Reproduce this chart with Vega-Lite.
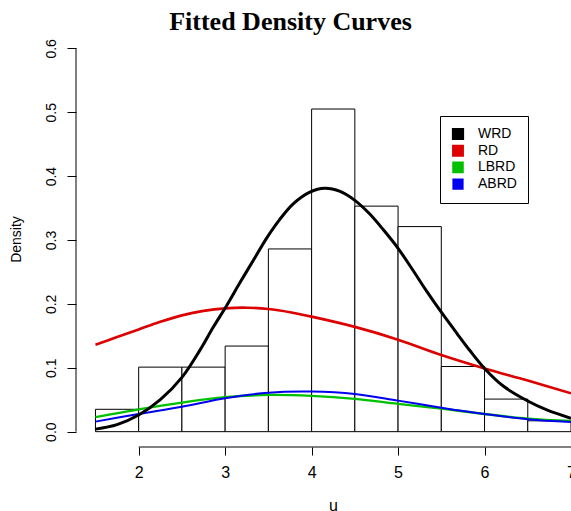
{
  "$schema": "https://vega.github.io/schema/vega-lite/v6.json",
  "width": 495,
  "height": 414,
  "autosize": {"type": "none"},
  "padding": {"top": 33, "left": 76, "right": 0, "bottom": 64},
  "background": "white",
  "config": {"view": {"stroke": null}},
  "title": {
    "text": "Fitted Density Curves",
    "font": "Liberation Serif",
    "fontSize": 26,
    "fontWeight": "bold",
    "color": "black",
    "anchor": "middle",
    "dx": -33,
    "offset": -2
  },
  "datasets": {
    "bars": [
      {"lo": 1.5, "hi": 2.0, "density": 0.035},
      {"lo": 2.0, "hi": 2.5, "density": 0.101},
      {"lo": 2.5, "hi": 3.0, "density": 0.101},
      {"lo": 3.0, "hi": 3.5, "density": 0.134},
      {"lo": 3.5, "hi": 4.0, "density": 0.286},
      {"lo": 4.0, "hi": 4.5, "density": 0.505},
      {"lo": 4.5, "hi": 5.0, "density": 0.353},
      {"lo": 5.0, "hi": 5.5, "density": 0.321},
      {"lo": 5.5, "hi": 6.0, "density": 0.102},
      {"lo": 6.0, "hi": 6.5, "density": 0.051},
      {"lo": 6.5, "hi": 7.0, "density": 0.017}
    ],
    "curves": [
      {"series": "RD", "u": 1.5, "d": 0.136},
      {"series": "RD", "u": 1.75, "d": 0.148},
      {"series": "RD", "u": 2.0, "d": 0.160},
      {"series": "RD", "u": 2.25, "d": 0.172},
      {"series": "RD", "u": 2.5, "d": 0.182},
      {"series": "RD", "u": 2.75, "d": 0.189},
      {"series": "RD", "u": 3.0, "d": 0.193},
      {"series": "RD", "u": 3.25, "d": 0.194},
      {"series": "RD", "u": 3.5, "d": 0.192},
      {"series": "RD", "u": 3.75, "d": 0.187},
      {"series": "RD", "u": 4.0, "d": 0.180},
      {"series": "RD", "u": 4.5, "d": 0.164},
      {"series": "RD", "u": 5.0, "d": 0.144},
      {"series": "RD", "u": 5.5, "d": 0.120},
      {"series": "RD", "u": 6.0, "d": 0.099},
      {"series": "RD", "u": 6.5, "d": 0.080},
      {"series": "RD", "u": 7.0, "d": 0.060},
      {"series": "LBRD", "u": 1.5, "d": 0.0226},
      {"series": "LBRD", "u": 2.0, "d": 0.035},
      {"series": "LBRD", "u": 2.5, "d": 0.0455},
      {"series": "LBRD", "u": 3.0, "d": 0.054},
      {"series": "LBRD", "u": 3.5, "d": 0.0575},
      {"series": "LBRD", "u": 4.0, "d": 0.056},
      {"series": "LBRD", "u": 4.5, "d": 0.0513},
      {"series": "LBRD", "u": 5.0, "d": 0.0434},
      {"series": "LBRD", "u": 5.5, "d": 0.036},
      {"series": "LBRD", "u": 6.0, "d": 0.0277},
      {"series": "LBRD", "u": 6.5, "d": 0.0204},
      {"series": "LBRD", "u": 7.0, "d": 0.0168},
      {"series": "ABRD", "u": 1.5, "d": 0.0157},
      {"series": "ABRD", "u": 2.0, "d": 0.0277},
      {"series": "ABRD", "u": 2.5, "d": 0.039},
      {"series": "ABRD", "u": 3.0, "d": 0.0523},
      {"series": "ABRD", "u": 3.5, "d": 0.061},
      {"series": "ABRD", "u": 4.0, "d": 0.0627},
      {"series": "ABRD", "u": 4.5, "d": 0.059},
      {"series": "ABRD", "u": 5.0, "d": 0.0486},
      {"series": "ABRD", "u": 5.5, "d": 0.0376},
      {"series": "ABRD", "u": 6.0, "d": 0.0277},
      {"series": "ABRD", "u": 6.5, "d": 0.0194},
      {"series": "ABRD", "u": 7.0, "d": 0.015},
      {"series": "WRD", "u": 1.5, "d": 0.004},
      {"series": "WRD", "u": 1.75, "d": 0.011},
      {"series": "WRD", "u": 2.0, "d": 0.026},
      {"series": "WRD", "u": 2.25, "d": 0.050},
      {"series": "WRD", "u": 2.5, "d": 0.085},
      {"series": "WRD", "u": 2.71, "d": 0.128},
      {"series": "WRD", "u": 2.86, "d": 0.163},
      {"series": "WRD", "u": 3.02, "d": 0.198},
      {"series": "WRD", "u": 3.17, "d": 0.233},
      {"series": "WRD", "u": 3.33, "d": 0.269},
      {"series": "WRD", "u": 3.48, "d": 0.303},
      {"series": "WRD", "u": 3.63, "d": 0.332},
      {"series": "WRD", "u": 3.79, "d": 0.357},
      {"series": "WRD", "u": 3.98, "d": 0.375},
      {"series": "WRD", "u": 4.15, "d": 0.381},
      {"series": "WRD", "u": 4.33, "d": 0.376},
      {"series": "WRD", "u": 4.5, "d": 0.362},
      {"series": "WRD", "u": 4.67, "d": 0.341},
      {"series": "WRD", "u": 4.83, "d": 0.316},
      {"series": "WRD", "u": 5.0, "d": 0.287},
      {"series": "WRD", "u": 5.17, "d": 0.253},
      {"series": "WRD", "u": 5.33, "d": 0.220},
      {"series": "WRD", "u": 5.5, "d": 0.187},
      {"series": "WRD", "u": 5.68, "d": 0.154},
      {"series": "WRD", "u": 5.83, "d": 0.127},
      {"series": "WRD", "u": 6.0, "d": 0.099},
      {"series": "WRD", "u": 6.22, "d": 0.071},
      {"series": "WRD", "u": 6.5, "d": 0.048},
      {"series": "WRD", "u": 6.72, "d": 0.034},
      {"series": "WRD", "u": 7.0, "d": 0.021}
    ]
  },
  "layer": [
    {
      "data": {"name": "bars"},
      "mark": {"type": "rect", "fill": "white", "stroke": "black", "strokeWidth": 1},
      "encoding": {
        "x": {
          "field": "lo", "type": "quantitative",
          "scale": {"domain": [1.275, 7.0], "nice": false, "zero": false},
          "axis": {
            "values": [2, 3, 4, 5, 6, 7],
            "format": "d",
            "domain": false, "grid": false,
            "tickSize": 8, "tickColor": "black", "tickWidth": 1,
            "labelFont": "Liberation Sans", "labelFontSize": 16, "labelColor": "black",
            "labelPadding": 9, "labelFlush": false, "labelOverlap": false,
            "title": "u", "titleFont": "Liberation Sans", "titleFontSize": 16,
            "titleFontWeight": "normal", "titleColor": "black",
            "titleX": 257, "titleY": 63, "titleBaseline": "alphabetic", "titleAnchor": null
          }
        },
        "x2": {"field": "hi"},
        "y": {
          "field": "density", "type": "quantitative",
          "scale": {"domain": [-0.024, 0.624], "nice": false, "zero": false},
          "axis": {
            "values": [0, 0.1, 0.2, 0.3, 0.4, 0.5, 0.6],
            "format": ".1f",
            "domain": false, "grid": false,
            "tickSize": 9, "tickColor": "black", "tickWidth": 1,
            "labelFont": "Liberation Sans", "labelFontSize": 14, "labelColor": "black",
            "labelAngle": -90, "labelAlign": "center", "labelBaseline": "bottom",
            "labelPadding": 9, "labelFlush": false, "labelOverlap": false,
            "title": "Density", "titleFont": "Liberation Sans", "titleFontSize": 14,
            "titleFontWeight": "normal", "titleColor": "black",
            "titleAngle": -90, "titleAlign": "center", "titleBaseline": "middle",
            "titleX": -60, "titleY": 206
          }
        },
        "y2": {"datum": 0}
      }
    },
    {
      "data": {"values": [{}]},
      "mark": {"type": "rule", "color": "black", "strokeWidth": 1},
      "encoding": {
        "x": {"datum": 2, "type": "quantitative"},
        "x2": {"datum": 7},
        "y": {"datum": -0.024, "type": "quantitative"}
      }
    },
    {
      "data": {"values": [{}]},
      "mark": {"type": "rule", "color": "black", "strokeWidth": 1},
      "encoding": {
        "x": {"datum": 1.275, "type": "quantitative"},
        "y": {"datum": 0, "type": "quantitative"},
        "y2": {"datum": 0.6}
      }
    },
    {
      "data": {"name": "curves"},
      "mark": {"type": "line", "interpolate": "catmull-rom"},
      "encoding": {
        "x": {"field": "u", "type": "quantitative"},
        "y": {"field": "d", "type": "quantitative"},
        "color": {
          "field": "series", "type": "nominal",
          "scale": {"domain": ["WRD", "RD", "LBRD", "ABRD"], "range": ["#000000", "#dd0000", "#00c000", "#0000ee"]},
          "legend": {
            "orient": "none", "legendX": 364, "legendY": 83,
            "title": null,
            "symbolType": "square", "symbolSize": 85,
            "symbolStrokeColor": "black", "symbolStrokeWidth": 1,
            "labelFont": "Liberation Sans", "labelFontSize": 14, "labelColor": "black",
            "labelOffset": 13, "rowPadding": 2.7, "clipHeight": 14,
            "padding": 11, "strokeColor": "black", "fillColor": "white",
            "encode": {"symbols": {"update": {"fill": {"scale": "color", "field": "value"}, "fillOpacity": {"value": 1}, "stroke": {"value": "black"}, "strokeWidth": {"value": 1}}}}
          }
        },
        "strokeWidth": {
          "field": "series", "type": "nominal",
          "scale": {"domain": ["WRD", "RD", "LBRD", "ABRD"], "range": [3, 2, 2, 2]},
          "legend": null
        },
        "order": {"field": "u", "type": "quantitative"}
      }
    }
  ]
}
